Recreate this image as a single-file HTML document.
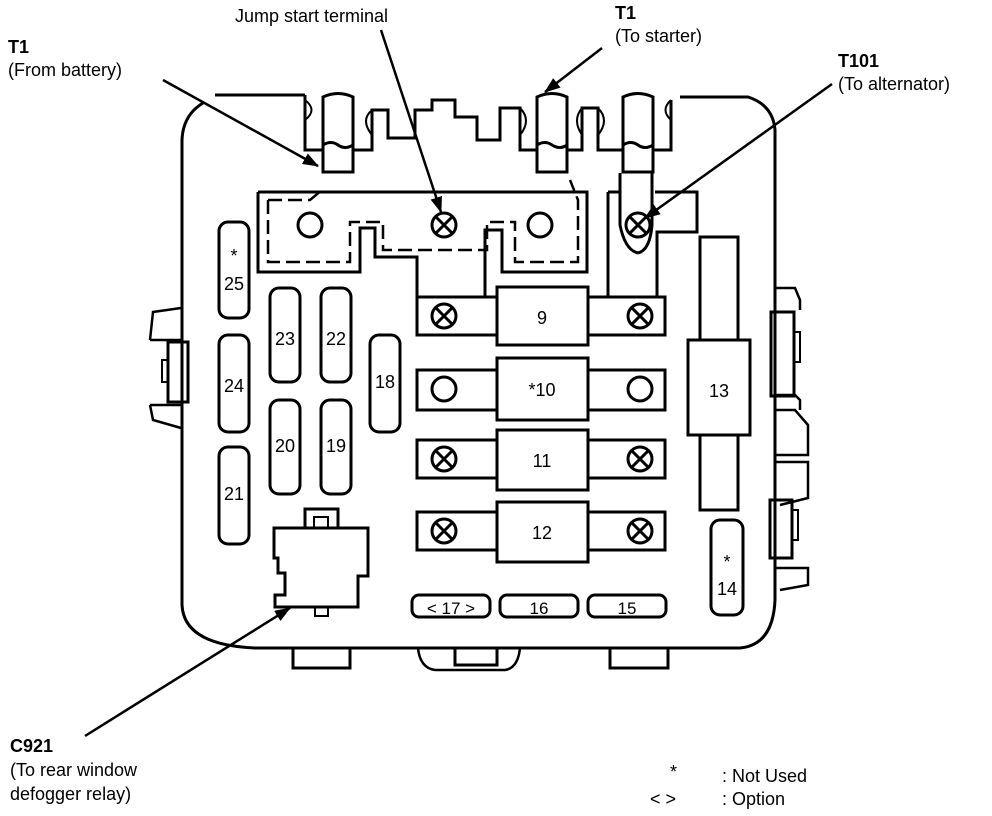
<!DOCTYPE html>
<html><head><style>
html,body{margin:0;padding:0;background:#fff;}
svg{display:block;}
text{font-family:"Liberation Sans",sans-serif;font-size:18px;fill:#000;}
.c{text-anchor:middle;}
</style></head><body>
<svg width="992" height="816" viewBox="0 0 992 816" xmlns="http://www.w3.org/2000/svg">
<defs>
<marker id="b" markerWidth="16" markerHeight="12" refX="15" refY="6" orient="auto" markerUnits="userSpaceOnUse"><path d="M0,0 L16,6 L0,12 Z" fill="#000"/></marker></defs>
<g fill="none" stroke="#000" stroke-width="3">
<path d="M215,95 H305 M203,103 Q183,115 182,140 V605 Q184,645 255,648 H740 Q773,645 775,600 V130 Q773,105 748,97 H680"/>
<path d="M305,95 V150 H323 M353,150 H372 V110 H388 V138 H415 V110 H432 V100 H455 V117 H477 V140 H500 V108 H520 V150 H537 M567,150 H582 V108 H598 V150 H623 M653,150 H671 V100"/>
<path d="M305,100 Q318,110 305,120 M372,110 Q360,120 372,135 M520,108 Q532,120 520,135 M582,108 Q572,120 582,135 M598,108 Q610,120 598,135 M671,100 Q660,110 671,120" stroke-width="2"/>
<path d="M323,172 V97 Q338,90 353,97 V172 Z M323,145 Q331,140 338,145 Q345,150 353,145"/>
<path d="M537,172 V97 Q552,90 567,97 V172 Z M537,145 Q545,140 552,145 Q560,150 567,145"/>
<path d="M623,172 V97 Q638,90 653,97 V172 Z M623,145 Q631,140 638,145 Q645,150 653,145 M620,173 V190 M652,173 V190"/>
<path d="M258,192 H587 V272 H502 V230 H485 V297 M258,192 V272 H360 V228 H375 V257 H417 V297"/>
<path d="M268,200 H310 L322,190 M268,200 V262 H350 V222 H383 V250 H487 V222 H515 V262 H578 V200 L570,180" stroke-dasharray="14,6" stroke-width="2.5"/>
<circle cx="310" cy="225" r="12"/><circle cx="540" cy="225" r="12"/>
<circle cx="444" cy="225" r="12"/><path d="M436,217 L452,233 M452,217 L436,233"/>
<path d="M608,192 V297 M608,192 H620 M655,192 H697 V232 H657 V297 M620,190 V225 Q625,250 638,253 M652,190 V225 Q650,250 638,253"/>
<circle cx="638" cy="225" r="12"/><path d="M630,217 L646,233 M646,217 L630,233"/>
<rect x="417" y="297" width="248" height="38"/><rect x="497" y="287" width="91" height="58" fill="#fff"/>
<rect x="417" y="370" width="248" height="40"/><rect x="497" y="358" width="91" height="62" fill="#fff"/>
<rect x="417" y="440" width="248" height="38"/><rect x="497" y="430" width="91" height="60" fill="#fff"/>
<rect x="417" y="512" width="248" height="38"/><rect x="497" y="502" width="91" height="60" fill="#fff"/>
<circle cx="444" cy="316" r="12"/><path d="M436,308 L452,324 M452,308 L436,324"/>
<circle cx="640" cy="316" r="12"/><path d="M632,308 L648,324 M648,308 L632,324"/>
<circle cx="444" cy="389" r="12"/><circle cx="640" cy="389" r="12"/>
<circle cx="444" cy="459" r="12"/><path d="M436,451 L452,467 M452,451 L436,467"/>
<circle cx="640" cy="459" r="12"/><path d="M632,451 L648,467 M648,451 L632,467"/>
<circle cx="444" cy="531" r="12"/><path d="M436,523 L452,539 M452,523 L436,539"/>
<circle cx="640" cy="531" r="12"/><path d="M632,523 L648,539 M648,523 L632,539"/>
<rect x="700" y="237" width="38" height="273"/><rect x="688" y="340" width="62" height="95" fill="#fff"/>
<rect x="219" y="222" width="30" height="96" rx="9"/>
<rect x="219" y="335" width="30" height="97" rx="9"/>
<rect x="219" y="447" width="30" height="97" rx="9"/>
<rect x="270" y="288" width="30" height="94" rx="9"/>
<rect x="270" y="400" width="30" height="94" rx="9"/>
<rect x="321" y="288" width="30" height="94" rx="9"/>
<rect x="321" y="400" width="30" height="94" rx="9"/>
<rect x="370" y="335" width="30" height="97" rx="9"/>
<rect x="711" y="520" width="32" height="95" rx="9"/>
<rect x="412" y="595" width="78" height="22" rx="7"/>
<rect x="500" y="595" width="78" height="22" rx="7"/>
<rect x="588" y="595" width="78" height="22" rx="7"/>
<path d="M274,528 H368 V576 H358 V607 H275 V595 H285 V573 H278 V558 H274 Z"/>
<rect x="305" y="509" width="33" height="19"/><rect x="314" y="517" width="14" height="11" stroke-width="2"/>
<rect x="315" y="607" width="13" height="9" stroke-width="2"/>
<path d="M181,308 L153,312 L150,340 M150,405 L153,420 L181,428 M150,340 H181 M150,405 H181" stroke-width="2.5"/>
<rect x="168" y="342" width="20" height="60"/><rect x="162" y="360" width="6" height="22" stroke-width="2"/>
<path d="M775,288 H795 L800,300 V310 M775,395 H795 L800,400 V410 M775,410 H795 L808,425 V455 H775" stroke-width="2.5"/>
<rect x="771" y="312" width="23" height="84"/><rect x="794" y="332" width="6" height="30" stroke-width="2"/>
<path d="M775,462 H808 V498 L780,505" stroke-width="2.5"/>
<rect x="770" y="500" width="22" height="58"/><rect x="792" y="510" width="6" height="30" stroke-width="2"/>
<path d="M775,568 H808 V585 L780,590" stroke-width="2.5"/>
<path d="M293,648 V668 H350 V648 M610,648 V668 H668 V648"/>
<path d="M418,648 Q420,668 435,670 H505 Q518,668 520,648" stroke-width="2.5"/>
<rect x="455" y="648" width="42" height="17"/>
</g>
<g stroke="#000" stroke-width="2.5" fill="none">
<line x1="163" y1="80" x2="318" y2="166" marker-end="url(#b)"/>
<line x1="381" y1="30" x2="441" y2="212" marker-end="url(#b)"/>
<line x1="602" y1="48" x2="545" y2="92" marker-end="url(#b)"/>
<line x1="832" y1="84" x2="645" y2="218" marker-end="url(#b)"/>
<line x1="85" y1="736" x2="290" y2="608" marker-end="url(#b)"/>
</g>
<text class="c" x="542" y="324">9</text>
<text class="c" x="542" y="396">*10</text>
<text class="c" x="542" y="467">11</text>
<text class="c" x="542" y="539">12</text>
<text class="c" x="719" y="397">13</text>
<text class="c" x="727" y="568">*</text><text class="c" x="727" y="595">14</text>
<text class="c" x="234" y="262">*</text><text class="c" x="234" y="290">25</text>
<text class="c" x="234" y="392">24</text>
<text class="c" x="234" y="500">21</text>
<text class="c" x="285" y="345">23</text><text class="c" x="336" y="345">22</text>
<text class="c" x="285" y="452">20</text><text class="c" x="336" y="452">19</text>
<text class="c" x="385" y="388">18</text>
<text class="c" x="451" y="614" style="font-size:17px">&lt; 17 &gt;</text>
<text class="c" x="539" y="614" style="font-size:17px">16</text>
<text class="c" x="627" y="614" style="font-size:17px">15</text>
<text x="235" y="22">Jump start terminal</text>
<text x="615" y="19" font-weight="bold">T1</text>
<text x="615" y="42">(To starter)</text>
<text x="8" y="53" font-weight="bold">T1</text>
<text x="8" y="76">(From battery)</text>
<text x="838" y="67" font-weight="bold">T101</text>
<text x="838" y="90">(To alternator)</text>
<text x="10" y="752" font-weight="bold">C921</text>
<text x="10" y="776">(To rear window</text>
<text x="10" y="800">defogger  relay)</text>
<text x="670" y="778">*</text><text x="722" y="782">: Not Used</text>
<text x="650" y="805">&lt;  &gt;</text><text x="722" y="805">: Option</text>
</svg>
</body></html>
